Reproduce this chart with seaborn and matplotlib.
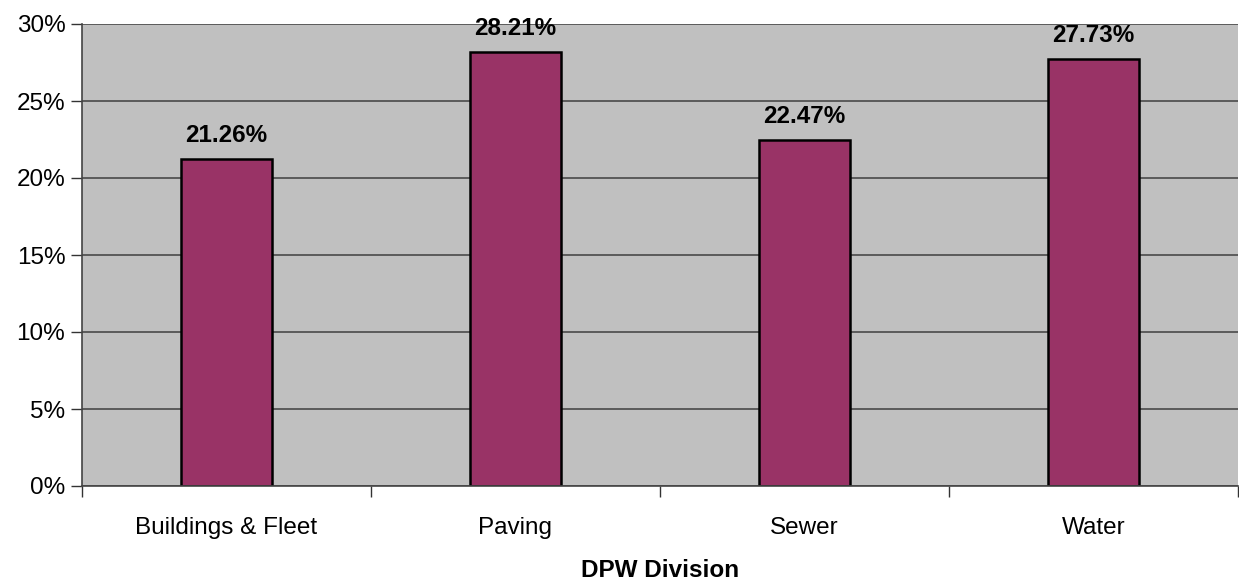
import pandas as pd
import matplotlib.pyplot as plt
import seaborn as sns
from matplotlib.ticker import FuncFormatter, FixedLocator

# Data
divisions = ["Buildings & Fleet", "Paving", "Sewer", "Water"]
shares = [21.26, 28.21, 22.47, 27.73]

df = pd.DataFrame({"Division": divisions, "Share": shares})

FS = 17.5

sns.set_style("white")
plt.rcParams["font.family"] = ["Liberation Sans", "DejaVu Sans"]
plt.rcParams["text.color"] = "black"
plt.rcParams["xtick.color"] = "black"
plt.rcParams["ytick.color"] = "black"
plt.rcParams["axes.labelcolor"] = "black"

fig = plt.figure(figsize=(12.39, 5.8), dpi=100)
ax = fig.add_axes([82 / 1239, 1 - 486 / 580, 1 - 82 / 1239 - 0.001, (486 - 24) / 580])
ax.set_facecolor("#C0C0C0")

sns.barplot(
    data=df, x="Division", y="Share", color="#993366",
    width=0.315, edgecolor="black", linewidth=1.8, saturation=1, ax=ax
)

ax.set_ylim(0, 30)
ax.set_xlim(-0.5, len(divisions) - 0.5)
ax.set_yticks(range(0, 31, 5))
ax.yaxis.set_major_formatter(FuncFormatter(lambda v, p: f"{v:.0f}%"))
ax.yaxis.grid(True, color="#4a4a4a", linewidth=1.2)
ax.set_axisbelow(True)

# tick marks between categories
ax.xaxis.set_minor_locator(FixedLocator([i - 0.5 for i in range(len(divisions) + 1)]))
ax.tick_params(axis="x", which="minor", length=8, width=1, color="#333333", direction="out")
ax.tick_params(axis="x", which="major", length=0, labelsize=FS, pad=22)
ax.tick_params(axis="y", length=8, width=1, color="#333333", direction="out", labelsize=FS, pad=4)
ax.tick_params(left=True, bottom=True, which="both")

for side in ["top", "right"]:
    ax.spines[side].set_visible(False)
for side in ["left", "bottom"]:
    ax.spines[side].set_color("#444444")
    ax.spines[side].set_linewidth(1.2)

for container in ax.containers:
    ax.bar_label(container, labels=[f"{v:.2f}%" for v in shares],
                 padding=8.5, fontsize=FS, fontweight="bold")

ax.set_ylabel("")
ax.set_xlabel("DPW Division", fontsize=FS, fontweight="bold", labelpad=15)

plt.savefig("out.png", dpi=100)
plt.close()
